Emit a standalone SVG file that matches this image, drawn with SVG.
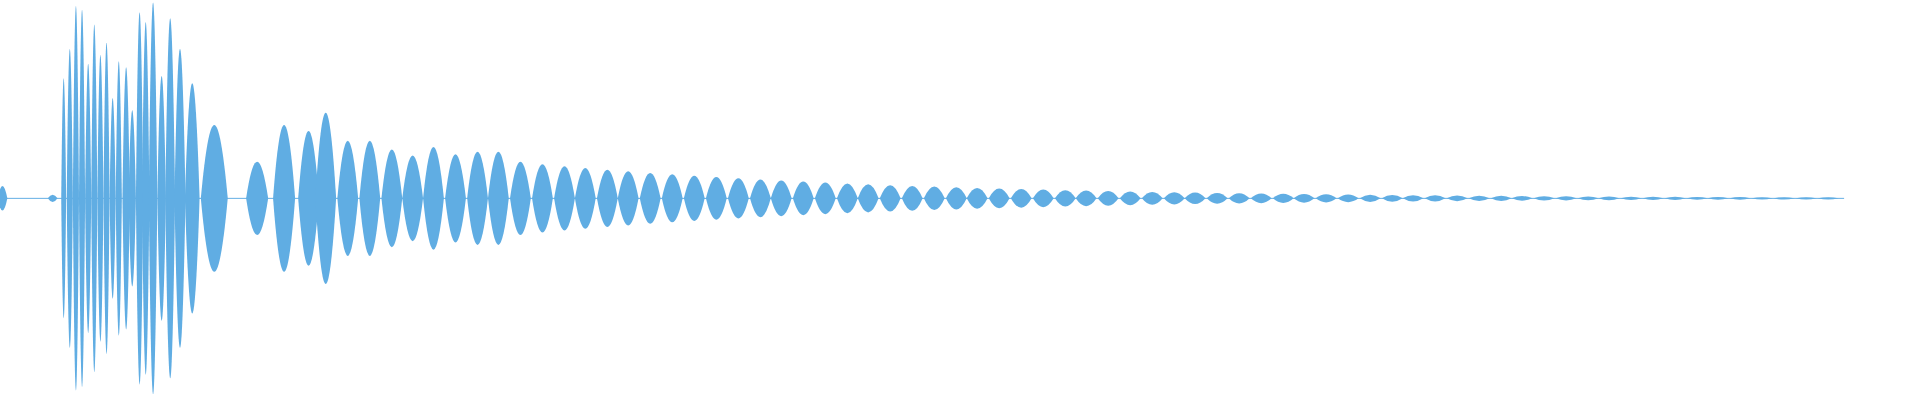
<svg xmlns="http://www.w3.org/2000/svg" xmlns:xlink="http://www.w3.org/1999/xlink" width="1920" height="400" viewBox="0 0 1920 400">
<defs><path id="L" d="M-1,0 Q0,-2 1,0 Q0,2 -1,0Z"/></defs>
<style>use{fill:#60ADE3}</style>
<rect width="1920" height="400" fill="#fff"/>
<g transform="scale(1.2245)">
<line x1="0" y1="162" x2="1506" y2="162" stroke="#60ADE3" stroke-width="0.8"/>
<use href="#L" transform="translate(2,162) scale(4,10)"/>
<use href="#L" transform="translate(43,162) scale(4,3)"/>
<use href="#L" transform="translate(52,162) scale(2,98)"/>
<use href="#L" transform="translate(57,162) scale(2.5,122)"/>
<use href="#L" transform="translate(62,162) scale(2.5,157)"/>
<use href="#L" transform="translate(67,162) scale(2.5,154)"/>
<use href="#L" transform="translate(72,162) scale(2.5,110)"/>
<use href="#L" transform="translate(77,162) scale(2.5,142)"/>
<use href="#L" transform="translate(82,162) scale(2.5,117)"/>
<use href="#L" transform="translate(87,162) scale(2.5,127)"/>
<use href="#L" transform="translate(92,162) scale(2.5,82)"/>
<use href="#L" transform="translate(97,162) scale(2.5,112)"/>
<use href="#L" transform="translate(103,162) scale(3,107)"/>
<use href="#L" transform="translate(108,162) scale(3,72)"/>
<use href="#L" transform="translate(114,162) scale(3,152)"/>
<use href="#L" transform="translate(119,162) scale(3,144)"/>
<use href="#L" transform="translate(125,162) scale(3.5,160)"/>
<use href="#L" transform="translate(132,162) scale(3.5,100)"/>
<use href="#L" transform="translate(139,162) scale(4,147)"/>
<use href="#L" transform="translate(147,162) scale(4.5,122)"/>
<use href="#L" transform="translate(157,162) scale(6,94)"/>
<use href="#L" transform="translate(175,162) scale(11,60)"/>
<use href="#L" transform="translate(210,162) scale(9,30)"/>
<use href="#L" transform="translate(232,162) scale(9,60)"/>
<use href="#L" transform="translate(252,162) scale(8.5,55)"/>
<use href="#L" transform="translate(266,162) scale(8.5,70)"/>
<use href="#L" transform="translate(284,162) scale(8.5,47)"/>
<use href="#L" transform="translate(302,162) scale(8.5,47)"/>
<use href="#L" transform="translate(320,162) scale(8.5,40)"/>
<use href="#L" transform="translate(337,162) scale(8.5,35)"/>
<use href="#L" transform="translate(354,162) scale(8.5,42)"/>
<use href="#L" transform="translate(372,162) scale(8.5,36)"/>
<use href="#L" transform="translate(390,162) scale(8.5,38)"/>
<use href="#L" transform="translate(407,162) scale(8.5,38)"/>
<use href="#L" transform="translate(425,162) scale(8.5,30)"/>
<use href="#L" transform="translate(443,162) scale(8.5,27.9)"/>
<use href="#L" transform="translate(461,162) scale(8.5,26.3)"/>
<use href="#L" transform="translate(478,162) scale(8.5,24.9)"/>
<use href="#L" transform="translate(496,162) scale(8.5,23.4)"/>
<use href="#L" transform="translate(513,162) scale(8.5,22.1)"/>
<use href="#L" transform="translate(531,162) scale(8.5,20.8)"/>
<use href="#L" transform="translate(549,162) scale(8.5,19.6)"/>
<use href="#L" transform="translate(567,162) scale(8.5,18.5)"/>
<use href="#L" transform="translate(585,162) scale(8.5,17.4)"/>
<use href="#L" transform="translate(603,162) scale(8.5,16.4)"/>
<use href="#L" transform="translate(621,162) scale(8.5,15.4)"/>
<use href="#L" transform="translate(638,162) scale(8.5,14.6)"/>
<use href="#L" transform="translate(656,162) scale(8.5,13.7)"/>
<use href="#L" transform="translate(674,162) scale(8.5,12.9)"/>
<use href="#L" transform="translate(692,162) scale(8.5,12.2)"/>
<use href="#L" transform="translate(709,162) scale(8.5,11.5)"/>
<use href="#L" transform="translate(727,162) scale(8.5,10.8)"/>
<use href="#L" transform="translate(745,162) scale(8.5,10.2)"/>
<use href="#L" transform="translate(763,162) scale(8.5,9.6)"/>
<use href="#L" transform="translate(781,162) scale(8.5,9.1)"/>
<use href="#L" transform="translate(798,162) scale(8.5,8.5)"/>
<use href="#L" transform="translate(816,162) scale(8.5,8)"/>
<use href="#L" transform="translate(834,162) scale(8.5,7.6)"/>
<use href="#L" transform="translate(852,162) scale(8.5,7.2)"/>
<use href="#L" transform="translate(870,162) scale(8.5,6.7)"/>
<use href="#L" transform="translate(887,162) scale(8.5,6.4)"/>
<use href="#L" transform="translate(905,162) scale(8.5,6)"/>
<use href="#L" transform="translate(923,162) scale(8.5,5.6)"/>
<use href="#L" transform="translate(941,162) scale(8.5,5.3)"/>
<use href="#L" transform="translate(959,162) scale(8.5,5)"/>
<use href="#L" transform="translate(976,162) scale(8.5,4.7)"/>
<use href="#L" transform="translate(994,162) scale(8.5,4.4)"/>
<use href="#L" transform="translate(1012,162) scale(8.5,4.2)"/>
<use href="#L" transform="translate(1030,162) scale(8.5,3.9)"/>
<use href="#L" transform="translate(1048,162) scale(8.5,3.7)"/>
<use href="#L" transform="translate(1065,162) scale(8.5,3.5)"/>
<use href="#L" transform="translate(1083,162) scale(8.5,3.3)"/>
<use href="#L" transform="translate(1101,162) scale(8.5,3.1)"/>
<use href="#L" transform="translate(1119,162) scale(8.5,2.9)"/>
<use href="#L" transform="translate(1137,162) scale(8.5,2.8)"/>
<use href="#L" transform="translate(1154,162) scale(8.5,2.6)"/>
<use href="#L" transform="translate(1172,162) scale(8.5,2.5)"/>
<use href="#L" transform="translate(1190,162) scale(8.5,2.3)"/>
<use href="#L" transform="translate(1208,162) scale(8.5,2.2)"/>
<use href="#L" transform="translate(1226,162) scale(8.5,2.1)"/>
<use href="#L" transform="translate(1243,162) scale(8.5,1.9)"/>
<use href="#L" transform="translate(1261,162) scale(8.5,1.8)"/>
<use href="#L" transform="translate(1279,162) scale(8.5,1.7)"/>
<use href="#L" transform="translate(1297,162) scale(8.5,1.6)"/>
<use href="#L" transform="translate(1314,162) scale(8.5,1.5)"/>
<use href="#L" transform="translate(1332,162) scale(8.5,1.4)"/>
<use href="#L" transform="translate(1350,162) scale(8.5,1.4)"/>
<use href="#L" transform="translate(1368,162) scale(8.5,1.3)"/>
<use href="#L" transform="translate(1386,162) scale(8.5,1.2)"/>
<use href="#L" transform="translate(1403,162) scale(8.5,1.1)"/>
<use href="#L" transform="translate(1421,162) scale(8.5,1.1)"/>
<use href="#L" transform="translate(1439,162) scale(8.5,1)"/>
<use href="#L" transform="translate(1457,162) scale(8.5,1)"/>
<use href="#L" transform="translate(1475,162) scale(8.5,1)"/>
<use href="#L" transform="translate(1493,162) scale(8.5,1)"/>
</g>
</svg>
